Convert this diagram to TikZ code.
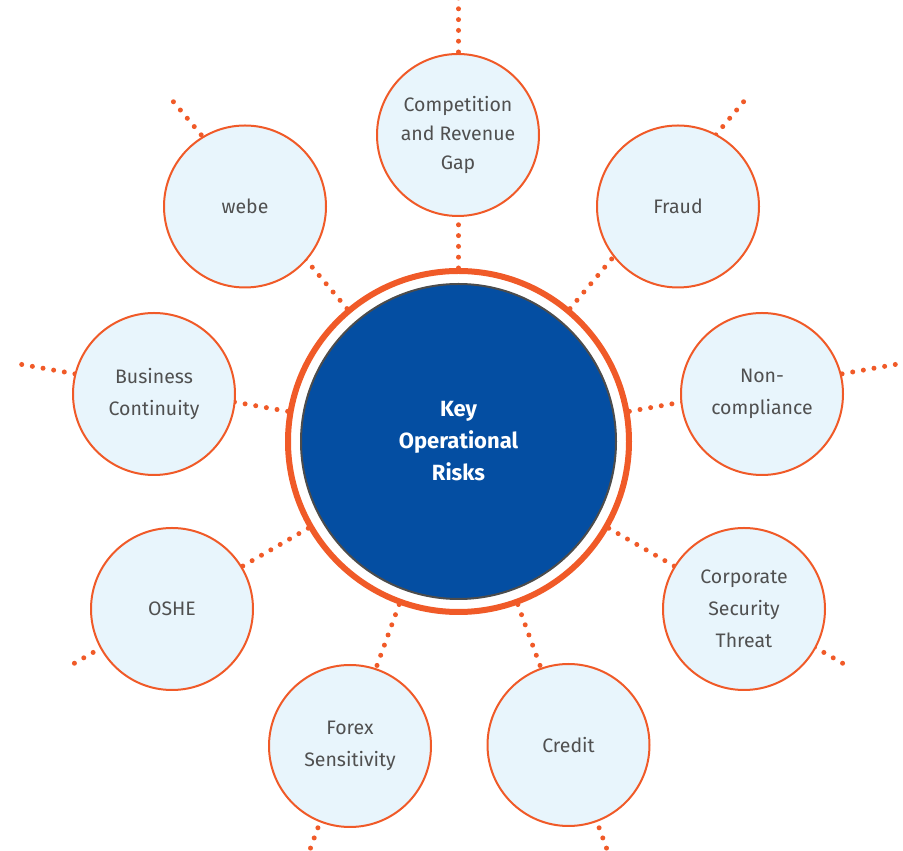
\documentclass[tikz,border=0pt]{standalone}
\usepackage{fontspec}
\setmainfont{Fira Sans}
\usepackage{tikz}
\usetikzlibrary{backgrounds}
\definecolor{riskorange}{RGB}{240,90,40}
\definecolor{riskfill}{RGB}{232,245,252}
\definecolor{coreblue}{RGB}{4,78,162}
\definecolor{labelgray}{RGB}{80,80,80}

\begin{document}
\begin{tikzpicture}[x=1pt, y=1pt, font=\fontsize{19.5}{32}\selectfont, risk/.style={circle, draw=riskorange, line width=2pt, fill=riskfill, minimum size=162pt, inner sep=0pt, align=center, text=labelgray}, spoke/.style={draw=riskorange, line width=5pt, line cap=round, dash pattern=on 0pt off 10.8pt}]
\useasboundingbox (0,0) rectangle (903,851);
\node[circle, draw=riskorange, line width=6pt, fill=white, minimum size=341pt, inner sep=0pt] (ring) at (458.5,409.5) {};
\node[circle, draw=black!70, line width=2pt, fill=coreblue, minimum size=315pt, inner sep=0pt, align=center, text=white, font=\bfseries\fontsize{22}{32}\selectfont] (key) at (ring.center) {Key\\Operational\\Risks};
% the nine risks round the core
\node[risk, font=\fontsize{19.5}{29}\selectfont] (comp) at (458,716) {Competition\\and Revenue\\Gap};
\node[risk] (fraud) at (678,644.5) {Fraud};
\node[risk] (noncomp) at (762,457) {Non-\\compliance};
\node[risk] (corp) at (744,242) {Corporate\\Security\\Threat};
\node[risk] (credit) at (568.5,106) {Credit};
\node[risk] (forex) at (350,105) {Forex\\Sensitivity};
\node[risk] (oshe) at (172,242) {OSHE};
\node[risk] (bcont) at (154,457) {Business\\Continuity};
\node[risk] (webe) at (245,644.5) {webe};
\begin{scope}[on background layer]
\clip (0,0) rectangle (903,851);
\foreach \ang in {90,50,10,-30,-70,-110,-150,170,130} {
  \path (ring.center) ++(\ang:450) coordinate (tip);
  \draw[spoke] (ring) -- (tip);
}
\end{scope}
\end{tikzpicture}
\end{document}
